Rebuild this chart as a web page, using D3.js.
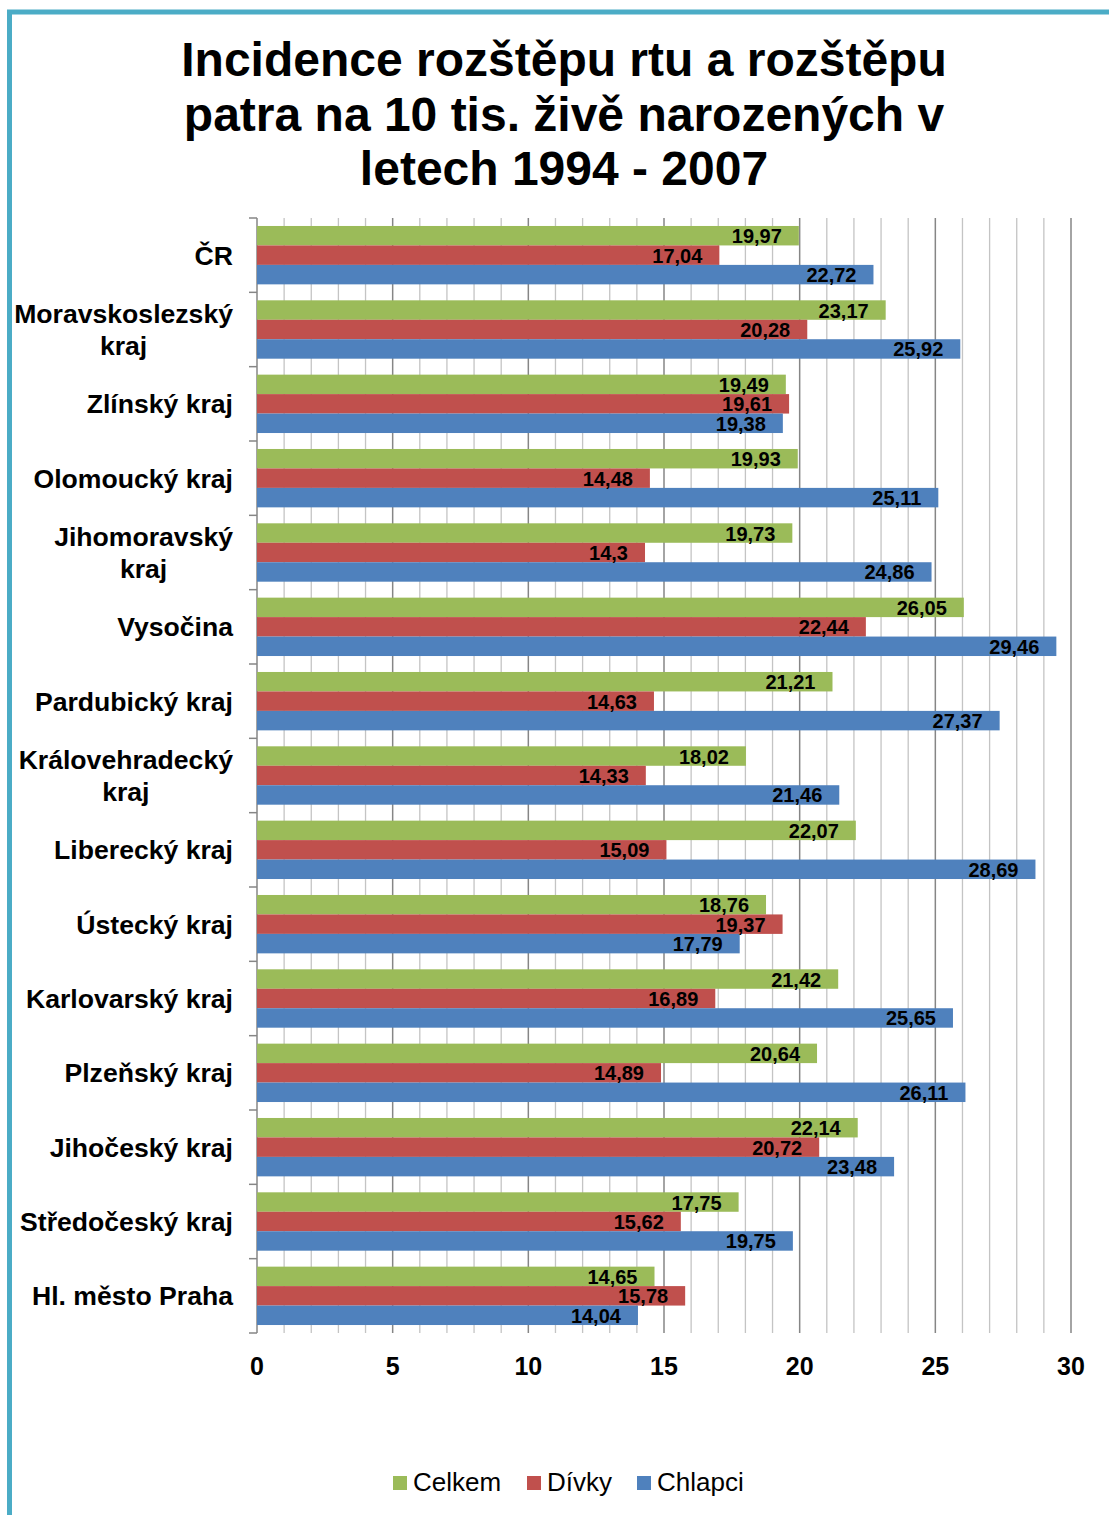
<!DOCTYPE html>
<html lang="cs">
<head>
<meta charset="utf-8">
<script src="https://cdn.jsdelivr.net/npm/d3@7"></script>
<style>
  html, body { margin: 0; padding: 0; background: #fff; }
  svg { display: block; font-family: "Liberation Sans", Arial, sans-serif; }
</style>
</head>
<body>
<svg id="chart" width="1109" height="1515"></svg>
<script>
// Regions (top to bottom); "\n" splits a label onto two lines
const regions = [
  "ČR", "Moravskoslezský\nkraj", "Zlínský kraj", "Olomoucký kraj", "Jihomoravský\nkraj",
  "Vysočina", "Pardubický kraj", "Královehradecký\nkraj", "Liberecký kraj", "Ústecký kraj",
  "Karlovarský kraj", "Plzeňský kraj", "Jihočeský kraj", "Středočeský kraj", "Hl. město Praha"
];
const seriesNames = ["Celkem", "Dívky", "Chlapci"];
const celkem  = [19.97, 23.17, 19.49, 19.93, 19.73, 26.05, 21.21, 18.02, 22.07, 18.76, 21.42, 20.64, 22.14, 17.75, 14.65];
const divky   = [17.04, 20.28, 19.61, 14.48, 14.3, 22.44, 14.63, 14.33, 15.09, 19.37, 16.89, 14.89, 20.72, 15.62, 15.78];
const chlapci = [22.72, 25.92, 19.38, 25.11, 24.86, 29.46, 27.37, 21.46, 28.69, 17.79, 25.65, 26.11, 23.48, 19.75, 14.04];
const xTicks = [0, 5, 10, 15, 20, 25, 30];
const titleLines = ["Incidence rozštěpu rtu a rozštěpu", "patra na 10 tis. živě narozených v", "letech 1994 - 2007"];

const colors = { "Celkem": "#9bbb59", "Dívky": "#c0504d", "Chlapci": "#4f81bd" };
const values = { "Celkem": celkem, "Dívky": divky, "Chlapci": chlapci };

const svg = d3.select("#chart");

// Outer frame (teal, runs off the right and bottom edges)
svg.append("rect")
  .attr("x", 9.5).attr("y", 12)
  .attr("width", 1200).attr("height", 1600)
  .attr("fill", "none").attr("stroke", "#4bacc6").attr("stroke-width", 5);

// Title
svg.append("g").selectAll("text").data(titleLines).join("text")
  .attr("x", 564).attr("y", (d, i) => 76 + i * 54.5)
  .attr("text-anchor", "middle")
  .attr("font-size", 48).attr("font-weight", "bold").attr("fill", "#000")
  .text(d => d);

// Plot area and scales
const plotLeft = 257, plotRight = 1071, plotTop = 218, plotBottom = 1333;
const x = d3.scaleLinear().domain([0, 30]).range([plotLeft, plotRight]);
const y0 = d3.scaleBand().domain(regions).range([plotTop, plotBottom]);
const y1 = d3.scaleBand().domain(seriesNames).range([0, y0.bandwidth()]).paddingOuter(0.41);

// Gridlines: minor every 1, major every 5
const grid = svg.append("g");
grid.selectAll("line").data(d3.range(1, 31)).join("line")
  .attr("x1", d => x(d)).attr("x2", d => x(d))
  .attr("y1", plotTop).attr("y2", plotBottom)
  .attr("stroke", d => d % 5 === 0 ? "#868686" : "#c4c4c4")
  .attr("stroke-width", d => d % 5 === 0 ? 1.5 : 1.3);

// Left axis line and category tick marks
svg.append("line")
  .attr("x1", plotLeft).attr("x2", plotLeft).attr("y1", plotTop).attr("y2", plotBottom)
  .attr("stroke", "#868686").attr("stroke-width", 1.5);
const bounds = regions.map(r => y0(r)).concat([plotBottom]);
svg.append("g").selectAll("line").data(bounds).join("line")
  .attr("x1", plotLeft - 8).attr("x2", plotLeft).attr("y1", d => d).attr("y2", d => d)
  .attr("stroke", "#868686").attr("stroke-width", 1.5);

// Bars
const rows = regions.map((r, i) => ({
  region: r,
  items: seriesNames.map(s => ({ series: s, value: values[s][i] }))
}));
const groups = svg.append("g").selectAll("g").data(rows).join("g")
  .attr("transform", d => `translate(0,${y0(d.region)})`);
groups.selectAll("rect").data(d => d.items).join("rect")
  .attr("x", x(0))
  .attr("y", d => y1(d.series))
  .attr("width", d => x(d.value) - x(0))
  .attr("height", y1.bandwidth())
  .attr("fill", d => colors[d.series]);

// Value labels, inside the bar end
const fmt = v => String(v).replace(".", ",");
const labels = svg.append("g");
rows.forEach(row => {
  row.items.forEach(it => {
    labels.append("text")
      .attr("x", x(it.value) - 17)
      .attr("y", y0(row.region) + y1(it.series) + y1.bandwidth() / 2 + 7.5)
      .attr("text-anchor", "end")
      .attr("font-size", 20).attr("font-weight", "bold").attr("fill", "#000")
      .text(fmt(it.value));
  });
});

// Category labels (multi-line labels are centred within their block)
const catG = svg.append("g");
regions.forEach(r => {
  const lines = r.split("\n");
  const cy = y0(r) + y0.bandwidth() / 2;
  const t = catG.append("text")
    .attr("font-size", 26.6).attr("font-weight", "bold").attr("fill", "#000");
  lines.forEach((ln, i) => {
    t.append("tspan").text(ln)
      .attr("y", cy + 9.5 + (i - (lines.length - 1) / 2) * 32);
  });
  const spans = t.selectAll("tspan").nodes();
  const maxW = d3.max(spans, s => s.getComputedTextLength());
  const rightEdge = 233;
  spans.forEach(s => {
    d3.select(s).attr("x", rightEdge - maxW / 2).attr("text-anchor", "middle");
  });
});

// X axis labels
svg.append("g").selectAll("text").data(xTicks).join("text")
  .attr("x", d => x(d)).attr("y", 1375)
  .attr("text-anchor", "middle")
  .attr("font-size", 25).attr("font-weight", "bold").attr("fill", "#000")
  .text(d => d);

// Legend
const legendItems = [
  { name: "Celkem", sx: 393 },
  { name: "Dívky", sx: 527 },
  { name: "Chlapci", sx: 637 }
];
const lg = svg.append("g");
legendItems.forEach(it => {
  lg.append("rect").attr("x", it.sx).attr("y", 1476).attr("width", 14).attr("height", 14)
    .attr("fill", colors[it.name]);
  lg.append("text").attr("x", it.sx + 20).attr("y", 1491)
    .attr("font-size", 26).attr("fill", "#000").text(it.name);
});
</script>
</body>
</html>
